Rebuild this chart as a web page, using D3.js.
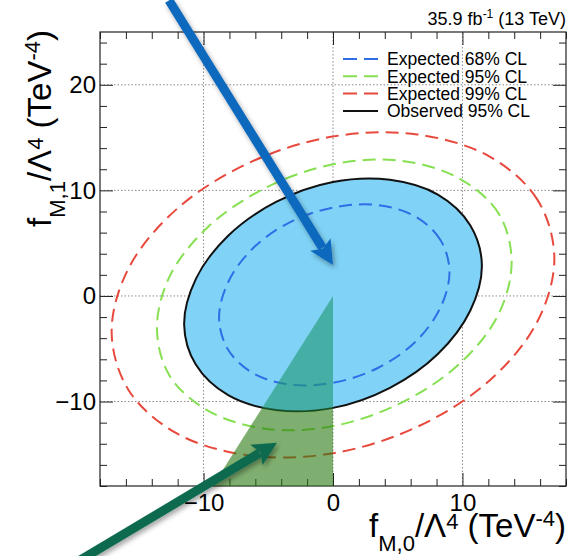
<!DOCTYPE html>
<html>
<head>
<meta charset="utf-8">
<script src="https://cdn.jsdelivr.net/npm/d3@7"></script>
<style>
  html, body { margin: 0; padding: 0; background: #fff; }
  svg { display: block; font-family: "Liberation Sans", Arial, Helvetica, sans-serif; }
</style>
</head>
<body>
<div id="chart"></div>
<script>
'use strict';

// axis ranges and tick labels
const xDomain = [-18, 18];
const yDomain = [-18, 25];
const xMajor = [-10, 0, 10];
const yMajor = [-10, 0, 10, 20];

// contours, [fM0, fM1] in TeV^-4
const exp68 = [
  [9.0, 2.3], [8.3, 5.3], [6.4, 7.5], [3.5, 8.6], [0.1, 8.4], [-3.3, 7.0],
  [-6.2, 4.5], [-8.1, 1.3], [-8.8, -2.1], [-8.1, -5.1], [-6.2, -7.3], [-3.3, -8.4],
  [0.1, -8.2], [3.5, -6.8], [6.4, -4.3], [8.3, -1.1]
];
const exp95 = [
  [13.8, 3.3], [12.8, 7.8], [9.8, 11.1], [5.3, 12.8], [0.1, 12.5], [-5.1, 10.3],
  [-9.6, 6.6], [-12.6, 1.9], [-13.6, -3.1], [-12.6, -7.6], [-9.6, -10.9], [-5.1, -12.6],
  [0.1, -12.3], [5.3, -10.1], [9.8, -6.4], [12.8, -1.7]
];
const exp99 = [
  [17.1, 3.6], [15.8, 9.1], [12.1, 13.2], [6.5, 15.3], [0, 15.1], [-6.5, 12.6],
  [-12.1, 8.2], [-15.8, 2.6], [-17.1, -3.4], [-15.8, -8.9], [-12.1, -13.0], [-6.5, -15.1],
  [0, -14.9], [6.5, -12.4], [12.1, -8.0], [15.8, -2.4]
];
const obs95 = [
  [11.5, 2.9], [10.6, 6.7], [8.1, 9.6], [4.4, 11.0], [0, 10.8], [-4.4, 8.9],
  [-8.1, 5.7], [-10.6, 1.6], [-11.5, -2.7], [-10.6, -6.5], [-8.1, -9.4], [-4.4, -10.8],
  [0, -10.6], [4.4, -8.7], [8.1, -5.5], [10.6, -1.4]
];

const legendLabels = ["Expected 68% CL", "Expected 95% CL", "Expected 99% CL", "Observed 95% CL"];

// annotation overlay (wedge + two arrows), data coordinates
const wedge = [[0, 0], [0, -18], [-9.3, -18]];
const blueArrow = [[-12.67, 28.0], [0, 2.94]];
const greenArrow = [[-19.5, -25.0], [-4.33, -13.9]];

const width = 572, height = 556;
const margin = {left: 100, right: 6, top: 32, bottom: 70};

const x = d3.scaleLinear().domain(xDomain).range([margin.left, width - margin.right]);
const y = d3.scaleLinear().domain(yDomain).range([height - margin.bottom, margin.top]);

const styles = {
  exp68: {color: "#2f6ee6", dash: "13,7"},
  exp95: {color: "#86e052", dash: "13,7"},
  exp99: {color: "#e8493d", dash: "13,7"},
  obs95: {color: "#111", dash: null}
};

const svg = d3.select("#chart").append("svg")
  .attr("width", width)
  .attr("height", height);

const defs = svg.append("defs");
defs.append("clipPath").attr("id", "plotClip")
  .append("rect")
  .attr("x", x(xDomain[0])).attr("y", y(yDomain[1]))
  .attr("width", x(xDomain[1]) - x(xDomain[0]))
  .attr("height", y(yDomain[0]) - y(yDomain[1]));

const contour = d3.line()
  .x(d => x(d[0]))
  .y(d => y(d[1]))
  .curve(d3.curveCatmullRomClosed.alpha(0.5));

defs.append("clipPath").attr("id", "obsClip")
  .append("path").attr("d", contour(obs95));

const outMask = defs.append("mask").attr("id", "outMask");
outMask.append("rect").attr("width", width).attr("height", height).attr("fill", "#fff");
outMask.append("path").attr("d", contour(obs95)).attr("fill", "#000");

const shadow = defs.append("filter").attr("id", "shadow")
  .attr("x", "-20%").attr("y", "-20%").attr("width", "140%").attr("height", "140%");
shadow.append("feDropShadow")
  .attr("dx", 2).attr("dy", 3)
  .attr("stdDeviation", 2.5)
  .attr("flood-color", "#000")
  .attr("flood-opacity", 0.35);

// grid
const grid = svg.append("g");
grid.selectAll("line.gx").data(xMajor).enter().append("line")
  .attr("x1", d => x(d)).attr("x2", d => x(d))
  .attr("y1", y(yDomain[0])).attr("y2", y(yDomain[1]))
  .attr("stroke", "#8a8a8a").attr("stroke-width", 1).attr("stroke-dasharray", "1.5,2");
grid.selectAll("line.gy").data(yMajor).enter().append("line")
  .attr("y1", d => y(d)).attr("y2", d => y(d))
  .attr("x1", x(xDomain[0])).attr("x2", x(xDomain[1]))
  .attr("stroke", "#8a8a8a").attr("stroke-width", 1).attr("stroke-dasharray", "1.5,2");

const plot = svg.append("g").attr("clip-path", "url(#plotClip)");

// observed fill
plot.append("path")
  .attr("d", contour(obs95))
  .attr("fill", "#80d3f6");

// expected contours
[["exp68", exp68], ["exp95", exp95], ["exp99", exp99]].forEach(([key, pts]) => {
  plot.append("path")
    .attr("d", contour(pts))
    .attr("fill", "none")
    .attr("stroke", styles[key].color)
    .attr("stroke-width", 2)
    .attr("stroke-dasharray", styles[key].dash);
});

// observed line
plot.append("path")
  .attr("d", contour(obs95))
  .attr("fill", "none")
  .attr("stroke", styles.obs95.color)
  .attr("stroke-width", 2);

// axes: ticks inward on all four sides
const minorX = d3.range(xDomain[0], xDomain[1] + 1, 2).filter(v => v % 10 !== 0);
const minorY = d3.range(yDomain[0], yDomain[1] + 1, 2).filter(v => v % 10 !== 0);

function axisPair(axisFn, scale, major, minor, transform, labels) {
  const g = svg.append("g").attr("transform", transform);
  g.append("g").call(axisFn(scale).tickValues(minor).tickSize(-7).tickFormat(""));
  g.append("g").call(axisFn(scale).tickValues(major).tickSize(-13)
    .tickPadding(axisFn === d3.axisLeft ? 4 : 8)
    .tickFormat(labels ? (d => d < 0 ? "\u2212" + Math.abs(d) : d) : ""));
  g.selectAll(".domain").remove();
  g.selectAll(".tick line").attr("stroke", "#222").attr("stroke-width", 1);
  g.selectAll(".tick text")
    .attr("fill", "#000")
    .style("font-size", "24px")
    .style("font-family", '"Liberation Sans", Arial, sans-serif');
  return g;
}

axisPair(d3.axisBottom, x, xMajor, minorX, `translate(0,${y(yDomain[0])})`, true);
axisPair(d3.axisTop, x, xMajor, minorX, `translate(0,${y(yDomain[1])})`, false);
axisPair(d3.axisLeft, y, yMajor, minorY, `translate(${x(xDomain[0])},0)`, true);
axisPair(d3.axisRight, y, yMajor, minorY, `translate(${x(xDomain[1])},0)`, false);

// frame
svg.append("rect")
  .attr("x", x(xDomain[0])).attr("y", y(yDomain[1]))
  .attr("width", x(xDomain[1]) - x(xDomain[0]))
  .attr("height", y(yDomain[0]) - y(yDomain[1]))
  .attr("fill", "none").attr("stroke", "#222").attr("stroke-width", 1.2);

// legend
const legend = svg.append("g");
const legendKeys = ["exp68", "exp95", "exp99", "obs95"];
legendLabels.forEach((label, i) => {
  const ly = 59 + i * 17.3;
  const st = styles[legendKeys[i]];
  legend.append("line")
    .attr("x1", 343).attr("x2", 378)
    .attr("y1", ly).attr("y2", ly)
    .attr("stroke", st.color).attr("stroke-width", 2)
    .attr("stroke-dasharray", st.dash ? "14,7" : null);
  legend.append("text")
    .attr("x", 387).attr("y", ly)
    .attr("dy", "0.36em")
    .style("font-size", "17.5px")
    .text(label);
});

// header
const head = svg.append("text")
  .attr("x", x(xDomain[1])).attr("y", 25)
  .attr("text-anchor", "end")
  .style("font-size", "18px");
head.append("tspan").text("35.9 fb");
head.append("tspan").attr("dy", -7).style("font-size", "12px").text("-1");
head.append("tspan").attr("dy", 7).text(" (13 TeV)");

// axis titles
function title(sel, sub) {
  sel.append("tspan").text("f");
  sel.append("tspan").attr("dy", 14).style("font-size", "22px").text(sub);
  sel.append("tspan").attr("dy", -14).text("/\u039b");
  sel.append("tspan").attr("dy", -8).style("font-size", "22px").text("4");
  sel.append("tspan").attr("dy", 8).text(" (TeV");
  sel.append("tspan").attr("dy", -11).style("font-size", "22px").text("-4");
  sel.append("tspan").attr("dy", 11).text(")");
}

title(svg.append("text")
  .attr("x", x(xDomain[1])).attr("y", 537)
  .attr("text-anchor", "end")
  .style("font-size", "33px"), "M,0");

title(svg.append("text")
  .attr("transform", `translate(51,${y(yDomain[1]) - 2}) rotate(-90)`)
  .attr("text-anchor", "end")
  .style("font-size", "33px"), "M,1");

// annotation overlay: green wedge, tinted teal where it covers the blue fill
const over = svg.append("g");
const wedgePath = "M" + wedge.map(d => [x(d[0]), y(d[1])].join(",")).join("L") + "Z";
over.append("path")
  .attr("mask", "url(#outMask)")
  .attr("d", wedgePath)
  .attr("fill", "#2a7a10").attr("fill-opacity", 0.6);
over.append("path")
  .attr("clip-path", "url(#obsClip)")
  .attr("d", wedgePath)
  .attr("fill", "#209870").attr("fill-opacity", 0.6);

function arrow(pts, color) {
  const p0 = [x(pts[0][0]), y(pts[0][1])];
  const p1 = [x(pts[1][0]), y(pts[1][1])];
  const dx = p1[0] - p0[0], dy = p1[1] - p0[1];
  const len = Math.hypot(dx, dy);
  const u = [dx / len, dy / len], n = [-u[1], u[0]];
  const headLen = 24, headW = 12;
  const base = [p1[0] - u[0] * headLen, p1[1] - u[1] * headLen];
  const g = over.append("g").attr("filter", "url(#shadow)");
  g.append("line")
    .attr("x1", p0[0]).attr("y1", p0[1])
    .attr("x2", base[0] + u[0] * 4).attr("y2", base[1] + u[1] * 4)
    .attr("stroke", color).attr("stroke-width", 9);
  g.append("path")
    .attr("d", `M${p1[0]},${p1[1]}L${base[0] + n[0] * headW},${base[1] + n[1] * headW}` +
      `L${base[0] + u[0] * 5},${base[1] + u[1] * 5}` +
      `L${base[0] - n[0] * headW},${base[1] - n[1] * headW}Z`)
    .attr("fill", color);
}

arrow(blueArrow, "#1069be");
arrow(greenArrow, "#0d6b4f");
</script>
</body>
</html>
